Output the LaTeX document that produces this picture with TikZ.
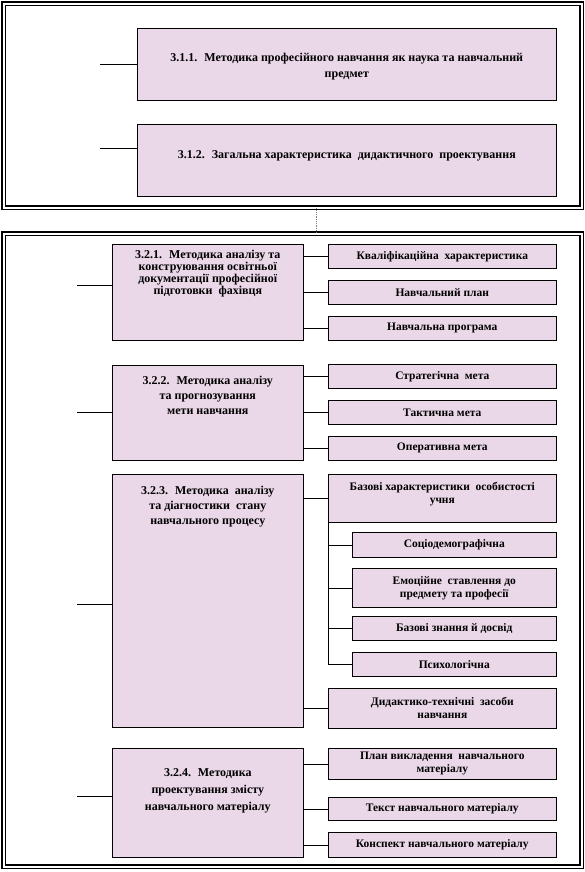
\documentclass[tikz,border=0pt]{standalone}
\usepackage{fontspec}
\setmainfont{Liberation Serif}
\usetikzlibrary{positioning,calc}
\definecolor{boxpink}{RGB}{234,215,232}
\newcommand{\topbox}[3]{\parbox[c][#1][t]{#2}{\centering #3}}

\begin{document}
\begin{tikzpicture}[x=1pt,y=-1pt,
    every node/.style={font=\fontsize{11.5}{12}\selectfont\bfseries},
    frame/.style={draw,double,double distance=2pt,line width=1.4pt,
                  anchor=north west,inner sep=0pt},
    mainbox/.style={draw,fill=boxpink,anchor=north west,inner sep=0pt,
                    line width=0.6pt,font=\fontsize{12}{12}\selectfont\bfseries},
    subbox/.style={draw,fill=boxpink,anchor=north west,inner sep=0pt,
                   minimum width=228pt,align=center,line width=0.6pt},
    itembox/.style={subbox,minimum width=204pt},
    link/.style={line width=0.6pt},
    gaplink/.style={gray,densely dotted,line width=0.8pt}]
  \useasboundingbox (0,0) rectangle (585,872);

  % two frames
  \node[frame,minimum width=578pt,minimum height=204pt] (upper) at (3,3) {};
  \node[frame,minimum width=578pt,minimum height=633pt] (lower) at (3,233) {};
  \draw[gaplink] ([xshift=24pt]upper.south) -- ([xshift=24pt]lower.north);

  % section 3.1
  \node[mainbox] (m311) at (137,28)
    {\topbox{72pt}{419pt}{\vspace*{25pt}3.1.1. \ Методика професійного навчання як наука та навчальний\\[4pt] предмет}};
  \node[mainbox] (m312) at (137,124)
    {\topbox{72pt}{419pt}{\vspace*{26pt}3.1.2. \ Загальна характеристика \ дидактичного \ проектування}};
  \coordinate (c311) at (100,64);
  \coordinate (c312) at (100,148);
  \draw[link] (c311) -- (m311.west |- c311);
  \draw[link] (c312) -- (m312.west |- c312);

  % 3.2.1
  \node[mainbox] (m321) at (112,244)
    {\topbox{96pt}{191pt}{\vspace*{6pt}3.2.1. \ Методика аналізу та\\ конструювання освітньої\\
     документації професійної\\ підготовки \ фахівця}};
  \node[subbox,minimum height=24pt] (k1) at (328,244) {Кваліфікаційна \ характеристика};
  \node[subbox,minimum height=24pt] (k2) at (328,280) {Навчальний план};
  \node[subbox,minimum height=24pt] (k3) at (328,316) {Навчальна програма};

  % 3.2.2
  \node[mainbox] (m322) at (112,365)
    {\topbox{95pt}{191pt}{\vspace*{10.5pt}3.2.2. \ Методика аналізу\\[3pt]
     та прогнозування\\[3pt] мети навчання}};
  \node[subbox,minimum height=24pt] (g1) at (328,364) {Стратегічна \ мета};
  \node[subbox,minimum height=24pt] (g2) at (328,400) {Тактична мета};
  \node[subbox,minimum height=24pt] (g3) at (328,436) {Оперативна мета};

  % 3.2.3
  \node[mainbox] (m323) at (112,474)
    {\topbox{253pt}{191pt}{\vspace*{11.5pt}3.2.3. \ Методика \ аналізу\\[3pt]
     та діагностики \ стану\\[3pt] навчального процесу}};
  \node[subbox,minimum height=48pt] (bas) at (328,474)
    {\topbox{48pt}{228pt}{\vspace*{8pt}Базові характеристики \ особистості\\[1pt] учня}};
  \node[itembox,minimum height=25pt] (soc) at (352,532) {Соціодемографічна};
  \node[itembox,minimum height=39pt] (emo) at (352,568)
    {Емоційне \ ставлення до\\[1pt] предмету та професії};
  \node[itembox,minimum height=24pt] (zn) at (352,616) {Базові знання й досвід};
  \node[itembox,minimum height=24pt] (psy) at (352,652) {Психологічна};
  \node[subbox,minimum height=40pt] (did) at (328,688)
    {Дидактико-технічні \ засоби\\[1pt] навчання};

  % 3.2.4
  \node[mainbox] (m324) at (112,748)
    {\topbox{109pt}{191pt}{\vspace*{20.5pt}3.2.4. \ Методика\\[5pt]
     проектування змісту\\[5pt] навчального матеріалу}};
  \node[subbox,minimum height=31pt] (p1) at (328,748)
    {План викладення \ навчального\\[1pt] матеріалу};
  \node[subbox,minimum height=23pt] (p2) at (328,797) {Текст навчального матеріалу};
  \node[subbox,minimum height=25pt] (p3) at (328,832) {Конспект навчального матеріалу};

  % free ends on the left
  \coordinate (c321) at (77,285);
  \coordinate (c322) at (77,412);
  \coordinate (c323) at (77,604);
  \coordinate (c324) at (77,796);
  \foreach \c/\m in {c321/m321,c322/m322,c323/m323,c324/m324}
    \draw[link] (\c) -- (\m.west |- \c);

  % right-hand branches
  \foreach \m/\s in {m321/k1,m321/k2,m321/k3,m322/g1,m322/g2,m322/g3,
                     m323/bas,m323/did,m324/p1,m324/p2,m324/p3}
    \draw[link] (\m.east |- \s.west) -- (\s.west);
  \draw[link] (bas.south west) |- (psy.west);
  \foreach \s in {soc,emo,zn}
    \draw[link] (bas.south west |- \s.west) -- (\s.west);
\end{tikzpicture}
\end{document}
